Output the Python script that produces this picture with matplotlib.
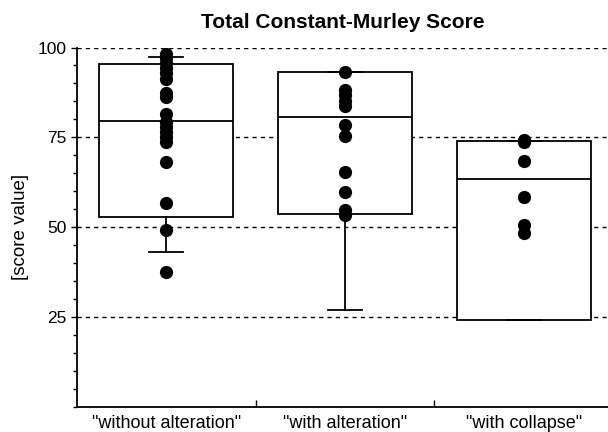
import matplotlib
matplotlib.use("Agg")
import matplotlib.pyplot as plt
from matplotlib.ticker import MultipleLocator, FixedLocator

plt.rcParams['font.family'] = ['Liberation Sans', 'DejaVu Sans']

groups = ['"without alteration"', '"with alteration"', '"with collapse"']

# box statistics
q1 = [52.7, 53.6, 24.2]
median = [79.6, 80.6, 63.3]
q3 = [95.4, 93.1, 74.1]
whis_lo = [43.1, 27.0, 24.2]
whis_hi = [97.3, 93.1, 74.1]

# individual scores
pts_without = [98.3, 97.0, 95.6, 94.2, 92.8, 91.3, 87.3, 86.2, 81.5,
               79.4, 77.9, 76.4, 75.0, 73.7, 68.1, 56.7, 49.3, 37.4]
pts_with = [93.3, 88.2, 86.7, 85.2, 83.8, 78.5, 75.3, 65.3, 59.7, 54.8, 53.5]
pts_collapse = [74.2, 73.6, 68.3, 58.3, 50.6, 48.4]
points = [pts_without, pts_with, pts_collapse]

fig = plt.figure(figsize=(6.08, 4.32), dpi=100)
ax = fig.add_axes([0.126, 0.0586, 0.874, 0.8314])

stats = []
for i in range(len(groups)):
    stats.append({'med': median[i], 'q1': q1[i], 'q3': q3[i],
                  'whislo': whis_lo[i], 'whishi': whis_hi[i], 'fliers': []})

lw = 1.3
ax.bxp(stats, positions=range(len(groups)), widths=0.75, showfliers=False,
       patch_artist=True,
       boxprops=dict(facecolor='white', edgecolor='black', linewidth=lw),
       medianprops=dict(color='black', linewidth=lw),
       whiskerprops=dict(color='black', linewidth=lw),
       capprops=dict(color='black', linewidth=lw),
       capwidths=0.19, zorder=3)

for i, vals in enumerate(points):
    ax.plot([i] * len(vals), vals, 'o', color='black', markersize=8.5, zorder=4)

ax.set_xlim(-0.5, 2.47)
ax.set_ylim(0, 100)

ax.yaxis.set_major_locator(FixedLocator([25, 50, 75, 100]))
ax.yaxis.set_minor_locator(MultipleLocator(5))
ax.tick_params(axis='y', which='major', direction='out', length=4, width=1, labelsize=12.5)
ax.tick_params(axis='y', which='minor', direction='out', length=3, width=1)

ax.set_xticks(range(len(groups)))
ax.set_xticklabels(groups)
ax.xaxis.set_minor_locator(FixedLocator([0.5, 1.5]))
ax.tick_params(axis='x', which='major', length=0, labelsize=13, pad=6)
ax.tick_params(axis='x', which='minor', direction='in', length=5, width=1)

for y in [25, 50, 75, 100]:
    ax.axhline(y, color='black', linewidth=1, linestyle=(0, (3, 3)), zorder=1)

ax.spines['top'].set_visible(False)
ax.spines['right'].set_visible(False)
ax.spines['left'].set_linewidth(1.3)
ax.spines['bottom'].set_linewidth(1.3)

ax.set_ylabel('[score value]', fontsize=13.5, labelpad=6)
ax.set_title('Total Constant-Murley Score', fontsize=15, fontweight='bold', pad=14)

fig.savefig('out.png', dpi=100)
